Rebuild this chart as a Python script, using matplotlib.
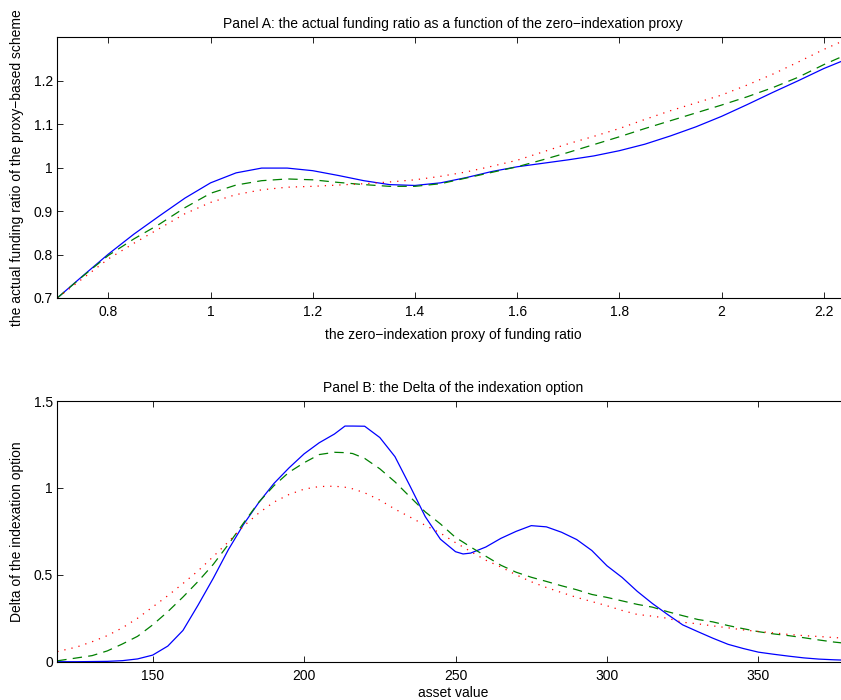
"""
Two-panel figure: proxy-based indexation scheme.

Panel A: actual funding ratio vs the zero-indexation proxy.
Panel B: Delta of the indexation option vs asset value.
"""

import matplotlib
matplotlib.use("Agg")
import matplotlib.pyplot as plt

plt.rcParams["font.family"] = ["Liberation Sans Narrow", "Liberation Sans", "DejaVu Sans"]

# ---------------------------------------------------------------------------
# Panel A data

proxy = [0.70, 0.75, 0.80, 0.85, 0.90, 0.95, 1.00, 1.05, 1.10, 1.15, 1.20,
         1.25, 1.30, 1.35, 1.40, 1.45, 1.50, 1.55, 1.60, 1.65, 1.70, 1.75,
         1.80, 1.85, 1.90, 1.95, 2.00, 2.05, 2.10, 2.15, 2.20, 2.25]

ratio_solid = [0.700, 0.751, 0.801, 0.847, 0.889, 0.930, 0.965, 0.988, 0.999,
               0.999, 0.993, 0.982, 0.970, 0.961, 0.959, 0.965, 0.977, 0.991,
               1.002, 1.010, 1.018, 1.027, 1.039, 1.054, 1.073, 1.094, 1.118,
               1.145, 1.173, 1.200, 1.228, 1.252]

ratio_dashed = [0.700, 0.750, 0.798, 0.836, 0.870, 0.908, 0.941, 0.960, 0.970,
                0.974, 0.972, 0.966, 0.961, 0.957, 0.957, 0.963, 0.976, 0.989,
                1.002, 1.018, 1.035, 1.053, 1.071, 1.090, 1.108, 1.126, 1.144,
                1.163, 1.184, 1.208, 1.237, 1.263]

ratio_dotted = [0.700, 0.745, 0.790, 0.826, 0.860, 0.894, 0.920, 0.938, 0.949,
                0.955, 0.957, 0.960, 0.963, 0.967, 0.972, 0.980, 0.990, 1.003,
                1.017, 1.036, 1.055, 1.072, 1.090, 1.111, 1.131, 1.149, 1.167,
                1.190, 1.215, 1.243, 1.272, 1.298]

# ---------------------------------------------------------------------------
# Panel B data

asset = [118.5, 125, 130, 135, 140, 145, 150, 155, 160, 165, 170, 175, 180,
         185, 190, 195, 200, 205, 210, 213.5, 216, 220, 225, 230, 235, 240,
         245, 250, 252.5, 255, 260, 265, 270, 275, 280, 285, 290, 295, 300,
         305, 310, 315, 320, 325, 330, 335, 340, 345, 350, 355, 360, 365,
         370, 375, 380]

delta_solid = [0.000, 0.000, 0.001, 0.002, 0.006, 0.016, 0.038, 0.090, 0.180,
               0.326, 0.480, 0.645, 0.790, 0.915, 1.025, 1.115, 1.196, 1.260,
               1.310, 1.356, 1.356, 1.355, 1.290, 1.180, 1.010, 0.835, 0.705,
               0.633, 0.620, 0.625, 0.660, 0.710, 0.750, 0.783, 0.776, 0.745,
               0.703, 0.640, 0.552, 0.485, 0.405, 0.335, 0.272, 0.212, 0.173,
               0.135, 0.100, 0.076, 0.055, 0.043, 0.032, 0.022, 0.015, 0.011,
               0.008]

delta_dashed = [0.005, 0.022, 0.035, 0.062, 0.102, 0.146, 0.212, 0.288, 0.372,
                0.462, 0.560, 0.675, 0.798, 0.917, 1.012, 1.090, 1.145, 1.192,
                1.205, 1.203, 1.198, 1.170, 1.110, 1.035, 0.948, 0.862, 0.793,
                0.715, 0.688, 0.660, 0.607, 0.555, 0.515, 0.486, 0.462, 0.437,
                0.414, 0.387, 0.370, 0.350, 0.330, 0.314, 0.288, 0.265, 0.243,
                0.229, 0.208, 0.190, 0.173, 0.160, 0.150, 0.138, 0.125, 0.113,
                0.104]

delta_dotted = [0.058, 0.085, 0.115, 0.150, 0.195, 0.250, 0.315, 0.380, 0.450,
                0.523, 0.605, 0.690, 0.780, 0.855, 0.918, 0.962, 0.993, 1.008,
                1.010, 1.004, 0.995, 0.972, 0.930, 0.878, 0.832, 0.785, 0.740,
                0.685, 0.660, 0.634, 0.584, 0.545, 0.500, 0.460, 0.427, 0.398,
                0.370, 0.346, 0.322, 0.295, 0.272, 0.262, 0.250, 0.227, 0.218,
                0.206, 0.195, 0.183, 0.174, 0.166, 0.157, 0.150, 0.145, 0.139,
                0.134]


def _style_axes(ax):
    """MATLAB-like box: inward ticks on all four sides."""
    ax.tick_params(direction="in", top=True, right=True, length=4.5, width=0.6,
                   labelsize=10, colors="black")
    ax.tick_params(axis="x", pad=5)
    ax.tick_params(axis="y", pad=3)
    for sp in ax.spines.values():
        sp.set_linewidth(0.8)


def _draw(ax, x, solid, dashed, dotted):
    ax.plot(x, solid, color="blue", lw=0.9)
    ax.plot(x, dashed, color=(0, 0.5, 0), lw=0.9, dashes=(7.5, 5))
    ax.plot(x, dotted, color="red", lw=0.9, dashes=(1, 4.8))


fig = plt.figure(figsize=(8.41, 7.00), dpi=100)

ax_a = fig.add_axes([0.0681, 0.5743, 0.9417, 0.3724])
_draw(ax_a, proxy, ratio_solid, ratio_dashed, ratio_dotted)
ax_a.set_xlim(0.7, 2.25)
ax_a.set_ylim(0.7, 1.3)
ax_a.set_xticks([0.8, 1, 1.2, 1.4, 1.6, 1.8, 2, 2.2])
ax_a.set_xticklabels(["0.8", "1", "1.2", "1.4", "1.6", "1.8", "2", "2.2"])
ax_a.set_yticks([0.7, 0.8, 0.9, 1, 1.1, 1.2])
ax_a.set_yticklabels(["0.7", "0.8", "0.9", "1", "1.1", "1.2"])
ax_a.set_title("Panel A: the actual funding ratio as a function of the "
               "zero\u2212indexation proxy", fontsize=10, pad=6.5)
ax_a.set_xlabel("the zero\u2212indexation proxy of funding ratio", fontsize=10)
ax_a.set_ylabel("the actual funding ratio of the proxy\u2212based scheme",
                fontsize=10, family=["Liberation Sans", "DejaVu Sans"])
ax_a.xaxis.set_label_coords(0.5, -0.115)
ax_a.yaxis.set_label_coords(-0.042, 0.5)
_style_axes(ax_a)

ax_b = fig.add_axes([0.0681, 0.0547, 0.9417, 0.3724])
_draw(ax_b, asset, delta_solid, delta_dashed, delta_dotted)
ax_b.set_xlim(118.5, 380)
ax_b.set_ylim(0, 1.5)
ax_b.set_xticks([150, 200, 250, 300, 350])
ax_b.set_yticks([0, 0.5, 1, 1.5])
ax_b.set_yticklabels(["0", "0.5", "1", "1.5"])
ax_b.set_title("Panel B: the Delta of the indexation option", fontsize=10, pad=6.5)
ax_b.set_xlabel("asset value", fontsize=10)
ax_b.set_ylabel("Delta of the indexation option", fontsize=10,
                family=["Liberation Sans", "DejaVu Sans"])
ax_b.xaxis.set_label_coords(0.5, -0.093)
ax_b.yaxis.set_label_coords(-0.042, 0.5)
_style_axes(ax_b)

fig.savefig("out.png", dpi=100)
plt.close(fig)
